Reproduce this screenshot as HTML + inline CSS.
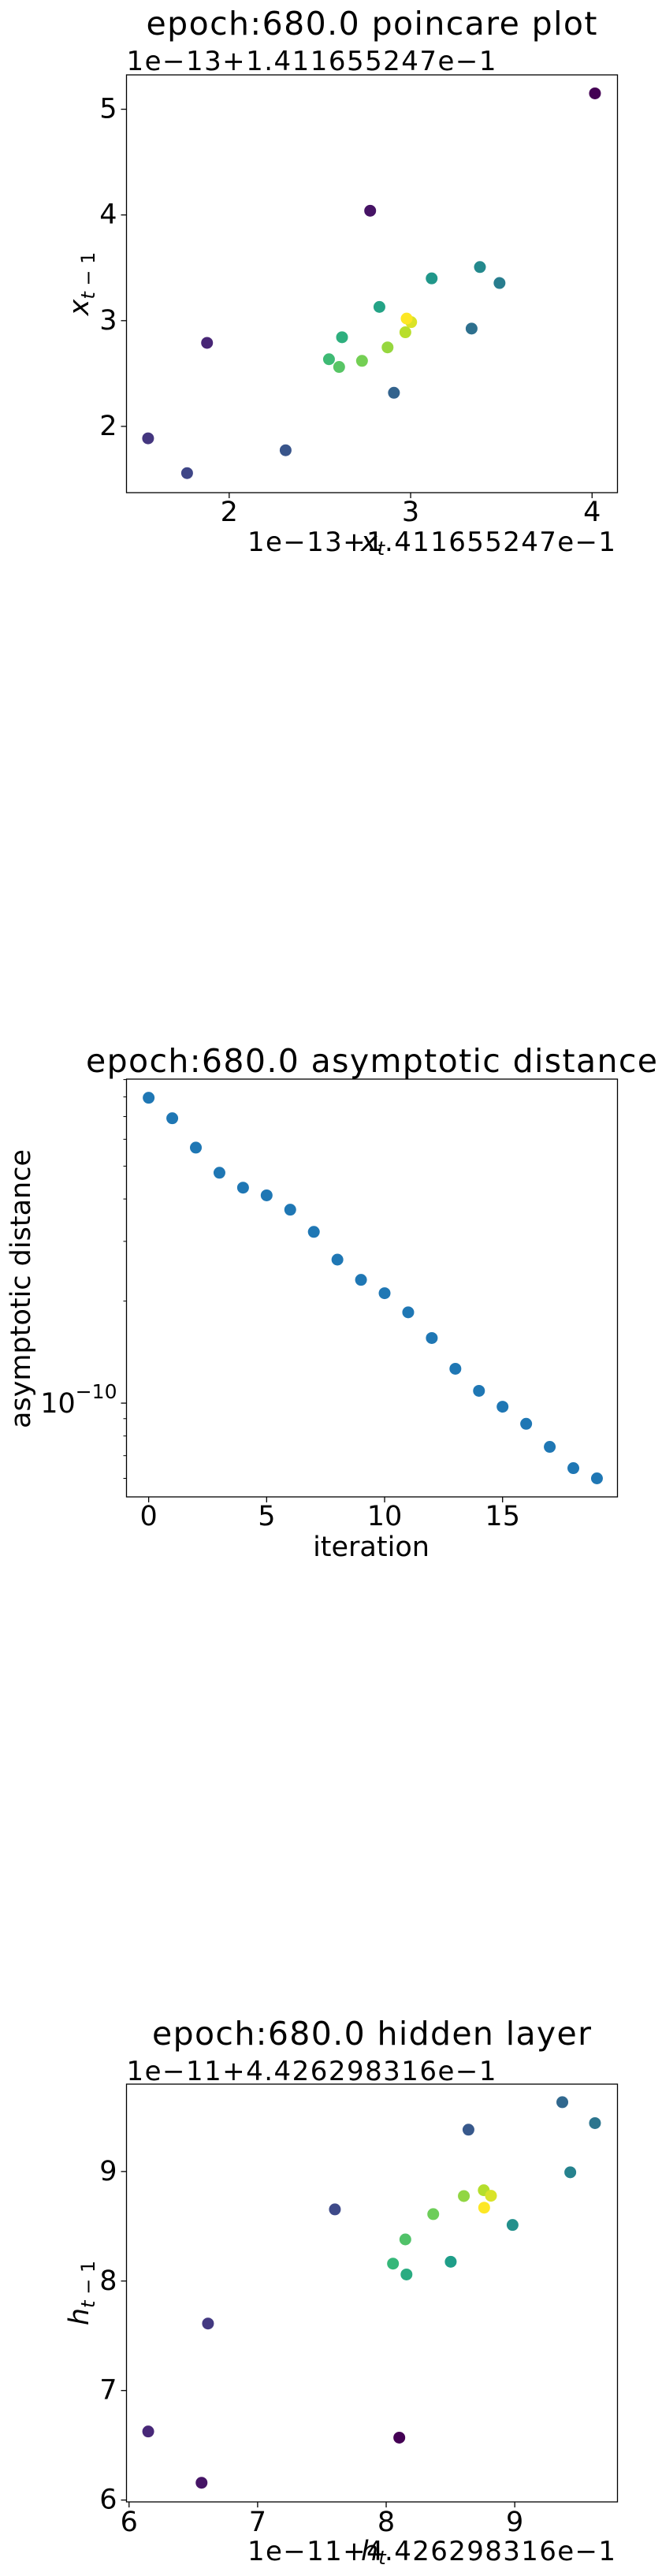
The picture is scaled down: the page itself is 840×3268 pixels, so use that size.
<!DOCTYPE html>
<html><head><meta charset="utf-8"><style>
html,body{margin:0;padding:0;background:#fff;}
svg{display:block;font-family:"DejaVu Sans","Liberation Sans",sans-serif;}
</style></head><body>
<svg id="fig" width="840" height="3268" viewBox="0 0 840 3268" xmlns="http://www.w3.org/2000/svg"></svg>
<script>
// ---- Plot 1: poincare plot data (offset units 1e-13) ----
const p1X = [4.016,2.777,1.878,1.553,1.768,2.311,2.908,3.336,3.49,3.382,3.116,2.828,2.622,2.55,2.606,2.732,2.873,2.971,3.003,2.978];
const p1Y = [5.15,4.04,2.79,1.887,1.558,1.774,2.318,2.925,3.356,3.507,3.40,3.13,2.843,2.635,2.562,2.62,2.747,2.89,2.986,3.02];
const p1XTicks = [2,3,4];
const p1YTicks = [2,3,4,5];
// ---- Plot 2: asymptotic distance ----
const p2Iter = [0,1,2,3,4,5,6,7,8,9,10,11,12,13,14,15,16,17,18,19];
const p2Dist = [7.955e-10,6.92e-10,5.67e-10,4.78e-10,4.32e-10,4.10e-10,3.72e-10,3.20e-10,2.65e-10,2.31e-10,2.11e-10,1.853e-10,1.556e-10,1.263e-10,1.087e-10,9.76e-11,8.69e-11,7.43e-11,6.43e-11,6.0e-11];
const p2XTicks = [0,5,10,15];
// ---- Plot 3: hidden layer (offset units 1e-11) ----
const p3X = [8.102,6.564,6.149,6.614,7.601,8.640,9.370,9.624,9.432,8.983,8.502,8.158,8.053,8.149,8.366,8.604,8.759,8.815,8.762];
const p3Y = [6.570,6.158,6.626,7.612,8.654,9.382,9.633,9.442,8.993,8.512,8.176,8.060,8.159,8.380,8.611,8.776,8.829,8.779,8.670];
const p3XTicks = [6,7,8,9];
const p3YTicks = [6,7,8,9];

const NS="http://www.w3.org/2000/svg";
const svg=document.getElementById('fig');
function mk(tag,attrs,parent){const e=document.createElementNS(NS,tag);for(const k in attrs)e.setAttribute(k,attrs[k]);(parent||svg).appendChild(e);return e;}
function txt(s,attrs,parent){const e=mk('text',attrs,parent);e.textContent=s;return e;}
const VIR=[[68,1,84],[72,40,120],[62,74,137],[49,104,142],[38,130,142],[31,158,137],[53,183,121],[109,205,89],[180,222,44],[253,231,37]];
function viridis(t){const p=t*(VIR.length-1);const i=Math.min(Math.floor(p),VIR.length-2);const f=p-i;const a=VIR[i],b=VIR[i+1];return `rgb(${a.map((v,k)=>Math.round(v+(b[k]-v)*f)).join(',')})`;}
function lin(d0,d1,r0,r1){return v=>r0+(v-d0)/(d1-d0)*(r1-r0);}
const L=160.5,R=783.5;

function frame(g,top,bot){
  const r=mk('rect',{x:L,y:top,width:R-L,height:bot-top,fill:'none',stroke:'#000','stroke-width':1.3},g);
  
  
}
function scatterPlot(name,xs,ys,xr,yr,top,bot,xt,yt,titleStr,titleY,titleW,offTxt,offY,xlab,ylab,tickY,botOffY){
  const g=mk('g',{});
  
  
  const sx=lin(xr[0],xr[1],L,R), sy=lin(yr[0],yr[1],bot,top);
  const t=txt(titleStr,{x:471.5,y:titleY,'text-anchor':'middle','dominant-baseline':'central','font-size':41,textLength:titleW},g);
  
  
  const o=txt(offTxt,{x:L,y:offY,'dominant-baseline':'central','font-size':34,textLength:469},g);
  
  
  frame(g,top,bot);
  xt.forEach(v=>{const x=sx(v);
    const l=mk('line',{x1:x,x2:x,y1:bot,y2:bot+7,stroke:'#000','stroke-width':1.3},g);
    
    
    const tl=txt(String(v),{x:x,y:tickY,'text-anchor':'middle','dominant-baseline':'central','font-size':35},g);
    
    });
  yt.forEach(v=>{const y=sy(v);
    const l=mk('line',{x1:L-7,x2:L,y1:y,y2:y,stroke:'#000','stroke-width':1.3},g);
    
    
    const tl=txt(String(v),{x:L-12,y:y,'text-anchor':'end','dominant-baseline':'central','font-size':35},g);
    
    });
  const n=xs.length;
  xs.forEach((v,i)=>{const c=mk('ellipse',{cx:sx(v),cy:sy(ys[i]),rx:7.5,ry:7.5,fill:viridis(i/(n-1))},g);
    
    });
  const bo=txt(offTxt,{x:314,y:botOffY,'dominant-baseline':'central','font-size':34,textLength:467},g);
  
  
  const xl=mk('text',{x:458,y:botOffY,'dominant-baseline':'central','font-size':35},g);
  
  
  xl.innerHTML=`<tspan font-style="italic">${xlab}</tspan><tspan font-size="24" font-style="italic" dy="8">t</tspan>`;
  const yl=mk('text',{x:0,y:0,'font-size':35,transform:`translate(112,${(top+bot)/2}) rotate(-90)`,'text-anchor':'middle'},g);
  
  
  yl.innerHTML=`<tspan font-style="italic">${ylab}</tspan><tspan font-size="24" dy="8"><tspan font-style="italic">t</tspan> − 1</tspan>`;
}
scatterPlot('poincare-plot',p1X,p1Y,[1.434,4.140],[1.373,5.325],95,625,p1XTicks,p1YTicks,
  'epoch:680.0 poincare plot',30,572,'1e−13+1.411655247e−1',78,'x','x',650,688);
scatterPlot('hidden-layer-plot',p3X,p3Y,[5.980,9.799],[5.983,9.798],2644,3174,p3XTicks,p3YTicks,
  'epoch:680.0 hidden layer',2580,557,'1e−11+4.426298316e−1',2628,'h','h',3200,3237);

// ---- Plot 2 ----
(function(){
  const top=1369,bot=1899;
  const g=mk('g',{});
  
  
  const sx=lin(-0.94,19.87,L,R);
  const ly=lin(-10.2765,-9.0444,bot,top);
  const sy=v=>ly(Math.log10(v));
  const t=txt('epoch:680.0 asymptotic distance',{x:471.5,y:1346,'text-anchor':'middle','dominant-baseline':'central','font-size':41,textLength:725},g);
  
  
  frame(g,top,bot);
  p2XTicks.forEach(v=>{const x=sx(v);
    const l=mk('line',{x1:x,x2:x,y1:bot,y2:bot+7,stroke:'#000','stroke-width':1.3},g);
    
    
    const tl=txt(String(v),{x:x,y:1924,'text-anchor':'middle','dominant-baseline':'central','font-size':35},g);
    
    });
  [6e-11,7e-11,8e-11,9e-11,2e-10,3e-10,4e-10,5e-10,6e-10,7e-10,8e-10,9e-10].forEach(v=>{const y=sy(v);
    const l=mk('line',{x1:L-4,x2:L,y1:y,y2:y,stroke:'#000','stroke-width':1},g);
    
    });
  const y0=sy(1e-10);
  const ml=mk('line',{x1:L-7,x2:L,y1:y0,y2:y0,stroke:'#000','stroke-width':1.3},g);
  
  
  const yt=mk('text',{x:L-12,y:y0+12,'text-anchor':'end','font-size':35},g);
  
  
  yt.innerHTML='10<tspan font-size="25" dy="-18">−10</tspan>';
  p2Iter.forEach((v,i)=>{const c=mk('ellipse',{cx:sx(v),cy:sy(p2Dist[i]),rx:7.5,ry:7.5,fill:'#1f77b4'},g);
    
    });
  const xl=txt('iteration',{x:471,y:1963,'text-anchor':'middle','dominant-baseline':'central','font-size':35},g);
  
  
  const yl=txt('asymptotic distance',{x:0,y:0,'text-anchor':'middle','dominant-baseline':'central','font-size':35,transform:'translate(27,1635) rotate(-90)'},g);
  
  
})();
</script>
</body></html>
